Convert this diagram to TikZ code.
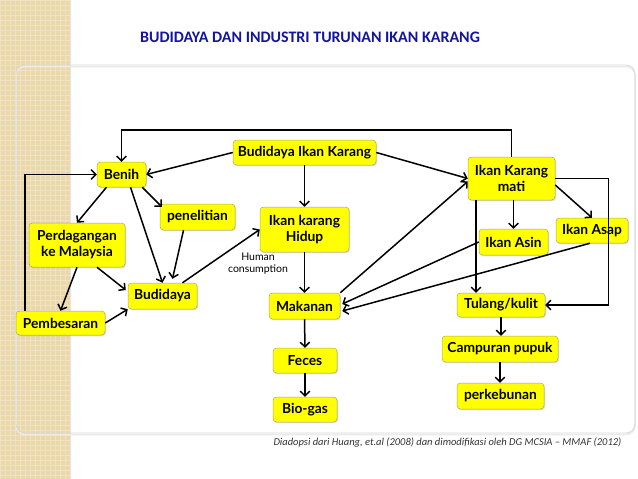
\documentclass[tikz,border=0pt]{standalone}
\usepackage{fontspec}
\setmainfont{Lato}
\newfontfamily\calfont{Carlito}
\usetikzlibrary{arrows.meta,shadows}
\definecolor{stripbeige}{RGB}{234,215,170}
\definecolor{titleblue}{RGB}{20,20,160}
\definecolor{boxyellow}{RGB}{255,255,0}
\definecolor{boxedge}{RGB}{170,170,90}

\begin{document}
\begin{tikzpicture}[
    x=1pt, y=-1pt,
    box/.style={fill=boxyellow, draw=boxedge, line width=0.5pt,
      rounded corners=3.5pt, align=center, inner sep=1pt,
      font=\fontsize{13.8}{16}\selectfont\bfseries, minimum height=25pt,
      drop shadow={shadow xshift=1pt, shadow yshift=-1.2pt, opacity=0.25}},
    arr/.style={draw, line width=1.5pt,
      -{Straight Barb[length=4.5pt,width=9.5pt]}},
    note/.style={font=\fontsize{10.5}{12.5}\selectfont, align=center},
  ]
  \useasboundingbox (0,0) rectangle (638,479);

  % slide background
  \fill[white] (0,0) rectangle (638,479);
  \fill[stripbeige] (0,0) rectangle (70,479);
  \draw[white, opacity=0.3, line width=0.6pt, step=5pt] (0,0) grid (70,479);
  \draw[black!10] (70,0) -- (70,479);
  \draw[black!8, line width=1.5pt, rounded corners=9pt] (16,66.5) rectangle (635,434.5);
  \draw[black!15, line width=0.8pt, rounded corners=9pt] (16,65) rectangle (635,433);

  \node[font=\calfont\bfseries\fontsize{16}{18}\selectfont, text=titleblue]
    (title) at (310,37) {BUDIDAYA DAN INDUSTRI TURUNAN IKAN KARANG};

  % boxes
  \node[box, minimum width=143pt] (bik) at (304.5,152.5) {Budidaya Ikan Karang};
  \node[box, minimum width=49pt] (benih) at (121.5,174.5) {Benih};
  \node[box, minimum width=87pt, minimum height=43pt] (ikm) at (511.5,178.5) {Ikan Karang\\mati};
  \node[box, minimum width=75pt, minimum height=26pt] (pen) at (197.5,217) {penelitian};
  \node[box, minimum width=89pt, minimum height=45pt] (ikh) at (304.5,229.5) {Ikan karang\\Hidup};
  \node[box, minimum width=96pt, minimum height=44pt] (perd) at (77,245) {Perdagangan\\ke Malaysia};
  \node[box, minimum width=69pt, minimum height=26pt] (asin) at (513.5,242) {Ikan Asin};
  \node[box, minimum width=72pt] (asap) at (592,230.5) {Ikan Asap};
  \node[box, minimum width=69pt, minimum height=26pt] (bud) at (162.5,296) {Budidaya};
  \node[box, minimum width=89pt, minimum height=24pt] (pemb) at (60.5,323) {Pembesaran};
  \node[box, minimum width=71pt, minimum height=26pt] (mak) at (304.5,306) {Makanan};
  \node[box, minimum width=88pt, minimum height=24pt] (tul) at (501,305) {Tulang/kulit};
  \node[box, minimum width=116pt, minimum height=26pt] (camp) at (500,349) {Campuran pupuk};
  \node[box, minimum width=64pt] (fec) at (305,360.5) {Feces};
  \node[box, minimum width=87pt, minimum height=26pt] (perk) at (500.5,396) {perkebunan};
  \node[box, minimum width=64pt] (bio) at (305,409.5) {Bio-gas};

  \node[note] (human) at (258,263.5) {Human\\consumption};

  % feedback loops
  \draw[arr] (ikm.north) -- ++(0,-27) -| (benih.north);
  \draw[arr] ([xshift=9pt]pemb.north west) |- (benih.west);
  \draw[arr] (ikm.east) -- ++(53,0) |- (tul.east);

  % left part
  \draw[arr] (bik.west) -- (benih.east);
  \draw[arr] ([xshift=-15pt]benih.south) -- (perd.north);
  \draw[arr] ([xshift=9pt]benih.south) -- (bud.north);
  \draw[arr] ([xshift=-4pt]benih.south east) -- ([xshift=2pt,yshift=-3pt]pen.north west);
  \draw[arr] ([xshift=-14pt]pen.south) -- ([xshift=10pt,yshift=4pt]bud.north);
  \draw[arr] ([xshift=20pt]bud.north) -- (ikh.west);
  \draw[arr] ([xshift=20pt]perd.south) -- ([xshift=-2pt,yshift=6pt]bud.west);
  \draw[arr] (perd.south) -- (pemb.north);
  \draw[arr] (pemb.east) -- (bud.south west);

  % middle column
  \draw[arr] (bik.south) -- (ikh.north);
  \draw[arr] (ikh.south) -- (mak.north);
  \draw[arr] (mak.south) -- (fec.north);
  \draw[arr] (fec.south) -- (bio.north);

  % right part
  \draw[arr] (bik.east) -- (ikm.west);
  \draw[arr] (mak.north east) -- ([yshift=-3pt]ikm.west);
  \draw[arr] (asin.west) -- ([xshift=2pt,yshift=2pt]mak.east);
  \draw[arr] ([xshift=-2pt]asap.south) -- ([xshift=2pt,yshift=-5pt]mak.east);
  \draw[arr] ([yshift=-6.5pt]ikm.east) -- (asap.north);
  \draw[arr] (asin.north |- ikm.south) -- (asin.north);
  \draw[arr] ([xshift=-35.5pt]ikm.south) -- ([xshift=-35.5pt]ikm.south |- tul.north);
  \draw[arr] (tul.south) -- (tul.south |- camp.north);
  \draw[arr] (camp.south) -- (camp.south |- perk.north);

  \node[font=\calfont\itshape\fontsize{10.5}{12}\selectfont, text=black!80, anchor=west]
    (source) at (270,443) {Diadopsi dari Huang, et.al (2008) dan dimodifikasi oleh DG MCSIA – MMAF (2012)};
\end{tikzpicture}
\end{document}
